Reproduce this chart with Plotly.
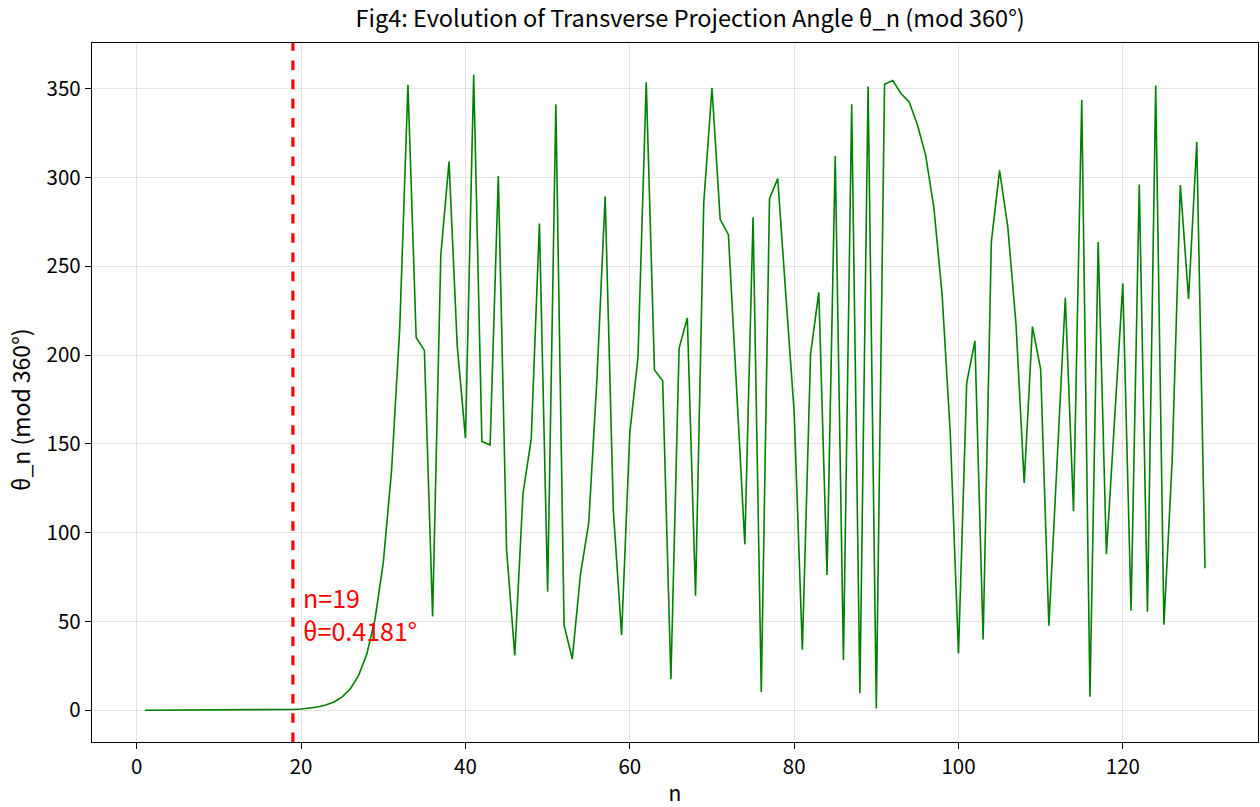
import plotly.graph_objects as go

n_values = list(range(1, 131))
theta_mod = [
    0.0, 0.0, 0.0, 0.0, 0.0, 0.0, 0.0, 0.0, 0.0, 0.01,
    0.01, 0.02, 0.03, 0.04, 0.06, 0.10, 0.16, 0.26, 0.4181, 0.68,
    1.1, 1.8, 2.9, 4.6, 7.5, 12.1, 19.6, 31.7, 51.4, 83.1,
    134.5, 215.0, 352.2, 209.9, 202.6, 52.8, 256.3, 308.9, 205.0, 153.2,
    357.8, 151.3, 149.3, 300.8, 90.7, 30.8, 121.9, 152.5, 274.0, 66.7,
    341.2, 47.9, 28.8, 76.7, 105.3, 186.7, 289.3, 112.2, 42.3, 156.2,
    198.9, 353.6, 191.6, 185.5, 17.4, 203.8, 220.9, 64.5, 285.7, 350.4,
    276.4, 267.8, 180.5, 93.4, 277.6, 10.3, 288.1, 299.3, 233.0, 168.0,
    34.0, 200.6, 235.3, 76.2, 312.1, 28.3, 341.2, 9.5, 351.2, 1.0,
    352.4, 354.6, 347.3, 342.5, 329.7, 312.6, 283.2, 234.4, 156.2, 32.0,
    184.3, 208.0, 39.8, 263.7, 304.0, 272.2, 217.3, 128.0, 216.0, 192.0,
    47.6, 143.0, 232.3, 112.0, 343.8, 7.6, 263.7, 87.8, 164.0, 240.2,
    56.0, 296.0, 55.5, 351.7, 48.1, 140.0, 295.7, 231.6, 320.0, 79.9,
]
marker_n = 19
marker_theta = 0.4181
x_ticks = [0, 20, 40, 60, 80, 100, 120]
y_ticks = [0, 50, 100, 150, 200, 250, 300, 350]

FONT = "Noto Sans CJK SC"

fig = go.Figure()
fig.add_trace(go.Scatter(
    x=n_values, y=theta_mod, mode="lines",
    line=dict(color="#008000", width=1.6),
    showlegend=False,
))

fig.add_shape(type="line", xref="x", yref="paper",
              x0=marker_n, x1=marker_n, y0=0, y1=1,
              line=dict(color="#ff0000", width=3.2, dash="dash"))

fig.add_annotation(
    x=marker_n + 1, y=34, xref="x", yref="y",
    text=f"n={marker_n}<br>θ={marker_theta}°",
    showarrow=False, xanchor="left", yanchor="bottom", align="left",
    font=dict(color="#ff0000", size=25, family=FONT),
)

# y-axis label as rotated annotation (placed like the reference)
fig.add_annotation(
    x=-0.0617, y=0.475, xref="paper", yref="paper",
    text="θ_n (mod 360°)", textangle=-90,
    showarrow=False, xanchor="center", yanchor="middle",
    font=dict(color="black", size=23, family=FONT),
)

axis_common = dict(
    showline=True, linecolor="black", linewidth=1.3, mirror=True,
    ticks="outside", ticklen=6, tickcolor="black",
    showgrid=True, gridcolor="rgba(0,0,0,0.1)", gridwidth=1,
    zeroline=False, automargin=False,
    tickfont=dict(size=20.5, family=FONT, color="black"),
)

fig.update_layout(
    width=1260, height=807,
    margin=dict(l=92, r=2, t=43, b=65),
    paper_bgcolor="white", plot_bgcolor="white",
    font=dict(family=FONT, color="black"),
    title=dict(
        text="Fig4: Evolution of Transverse Projection Angle θ_n (mod 360°)",
        x=0.513, xref="paper", xanchor="center", y=0.9765, yanchor="middle",
        font=dict(size=23.5, family=FONT, color="black"),
    ),
    xaxis=dict(
        range=[-5.45, 136.45], tickvals=x_ticks,
        title=dict(text="n", font=dict(size=21, family=FONT), standoff=21),
        **axis_common,
    ),
    yaxis=dict(
        range=[-17.9, 375.7], tickvals=y_ticks,
        **axis_common,
    ),
)

fig.write_html(
    "out.html",
    config={"displayModeBar": False},
    post_script="document.body.style.margin='0';document.body.style.overflow='hidden';",
)
